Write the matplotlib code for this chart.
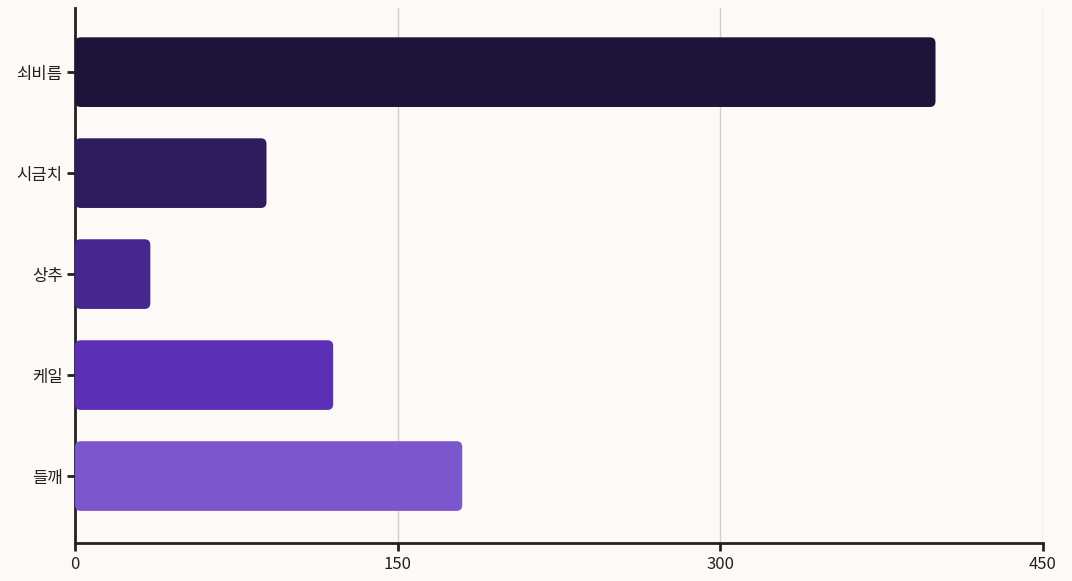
import matplotlib
matplotlib.use("Agg")
import matplotlib.pyplot as plt
from matplotlib.patches import FancyBboxPatch

plt.rcParams['font.family'] = ['Noto Sans CJK KR', 'DejaVu Sans']

categories = ["쇠비름", "시금치", "상추", "케일", "들깨"]
values = [400, 89, 35, 120, 180]
colors = ["#1e1339", "#2e1c5e", "#45278f", "#5b30b6", "#7b56cc"]
xticks = [0, 150, 300, 450]

fig = plt.figure(figsize=(10.72, 5.81), dpi=100, facecolor="#fdf9f6")
ax = fig.add_axes([0.07, 0.0654, 0.903, 0.9206], facecolor="#fdf9f6")
bars = ax.barh(range(len(categories)), values, height=0.69, color=colors)
for b, c in zip(bars, colors):
    b.set_visible(False)
    p = FancyBboxPatch((b.get_x(), b.get_y()), b.get_width(), b.get_height(),
                       boxstyle="round,pad=0,rounding_size=2.6", mutation_aspect=0.022,
                       facecolor=c, edgecolor="none", zorder=3)
    ax.add_patch(p)
ax.set_xlim(0, 450)
ax.set_ylim(4.663, -0.634)
ax.set_yticks(range(len(categories)))
ax.set_yticklabels(categories, fontsize=12, color="#222222")
ax.set_xticks(xticks)
ax.set_xticklabels([str(t) for t in xticks], fontsize=12, color="#222222")
ax.grid(axis="x", color="#d0cdca", linewidth=1, zorder=0)
ax.set_axisbelow(True)
for s in ["top", "right"]:
    ax.spines[s].set_visible(False)
for s in ["left", "bottom"]:
    ax.spines[s].set_linewidth(2)
    ax.spines[s].set_color("#222222")
ax.tick_params(axis="both", length=6, width=2, color="#222222", pad=3)
fig.savefig("out.png", dpi=100, facecolor=fig.get_facecolor())
